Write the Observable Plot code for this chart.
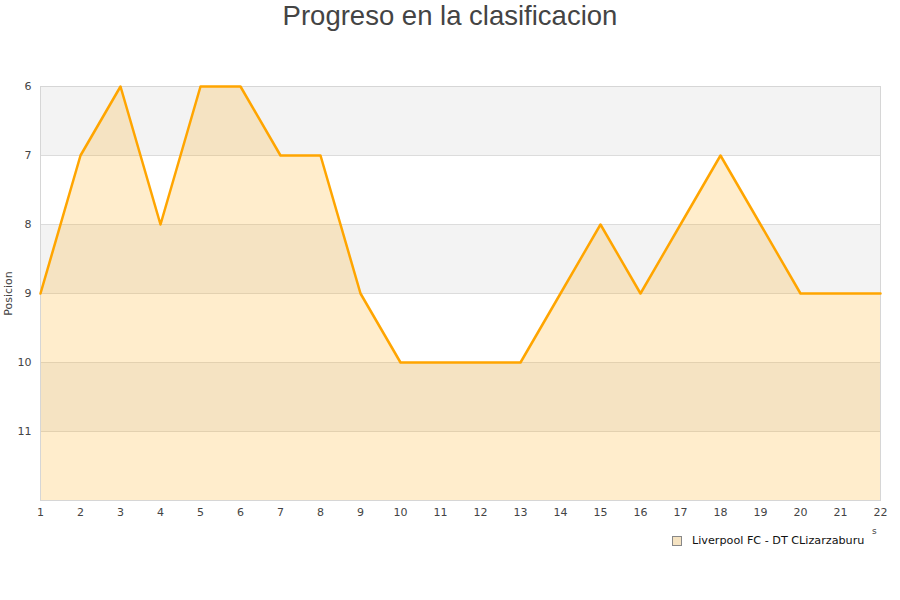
<!DOCTYPE html>
<html>
<head>
<meta charset="utf-8">
<script src="https://cdn.jsdelivr.net/npm/d3@7"></script>
<script src="https://cdn.jsdelivr.net/npm/@observablehq/plot@0.6"></script>
<style>
  body { margin: 0; background: #fff; }
  #chart { position: relative; width: 900px; height: 600px; font-family: "DejaVu Sans", sans-serif; }
  #titulo { position: absolute; left: 0; top: 0; width: 900px; text-align: center;
    font-family: "Liberation Sans", Arial, sans-serif; font-size: 27.5px; color: #444; line-height: 32px; }
  #leyenda { position: absolute; left: 672px; top: 534px; font-size: 11.2px; color: #111; display: flex; align-items: center; }
  #leyenda span.sq { display: inline-block; width: 8px; height: 8px; background: #f5e3c2; border: 1px solid #888; margin-right: 10px; }
  #resto { position: absolute; left: 872px; top: 526px; font-size: 9px; color: #444; }
</style>
</head>
<body>
<div id="chart">
  <div id="titulo">Progreso en la clasificacion</div>
  <div id="leyenda"><span class="sq"></span>Liverpool FC - DT CLizarzaburu</div>
  <div id="resto">s</div>
</div>
<script>
  const jornadas = [1, 2, 3, 4, 5, 6, 7, 8, 9, 10, 11, 12, 13, 14, 15, 16, 17, 18, 19, 20, 21, 22];
  const posiciones = [9, 7, 6, 8, 6, 6, 7, 7, 9, 10, 10, 10, 10, 9, 8, 9, 8, 7, 8, 9, 9, 9];
  const ticksY = [6, 7, 8, 9, 10, 11];
  const bandas = [[6, 7], [8, 9], [10, 11]]; // franjas grises

  const datos = jornadas.map((j, i) => ({ jornada: j, pos: posiciones[i] }));
  const franjas = bandas.map(([a, b]) => ({ a, b }));

  const plot = Plot.plot({
    width: 900, height: 600,
    marginLeft: 40, marginRight: 20, marginTop: 86, marginBottom: 100,
    style: { fontFamily: "DejaVu Sans, sans-serif", fontSize: "11px", color: "#444", background: "transparent" },
    x: { domain: [1, 22], ticks: jornadas, tickSize: 0, tickPadding: 8, label: null },
    y: { domain: [6, 12], reverse: true, ticks: ticksY, tickFormat: "d", tickSize: 0, tickPadding: 9,
         label: "Posicion", labelAnchor: "center", labelArrow: "none", labelOffset: 36 },
    marks: [
      // franjas alternas
      Plot.rect(franjas, { x1: 1, x2: 22, y1: "a", y2: "b", fill: "#f3f3f3" }),
      Plot.gridY(ticksY, { stroke: "#dcdcdc", strokeOpacity: 1 }),
      // área bajo la línea
      Plot.areaY(datos, { x: "jornada", y1: 12, y2: "pos", fill: "orange", fillOpacity: 0.2 }),
      Plot.frame({ stroke: "#d6d6d6" }),
      Plot.line(datos, { x: "jornada", y: "pos", stroke: "orange", strokeWidth: 2.5 }),
    ],
  });

  document.getElementById("chart").prepend(plot);
</script>
</body>
</html>
